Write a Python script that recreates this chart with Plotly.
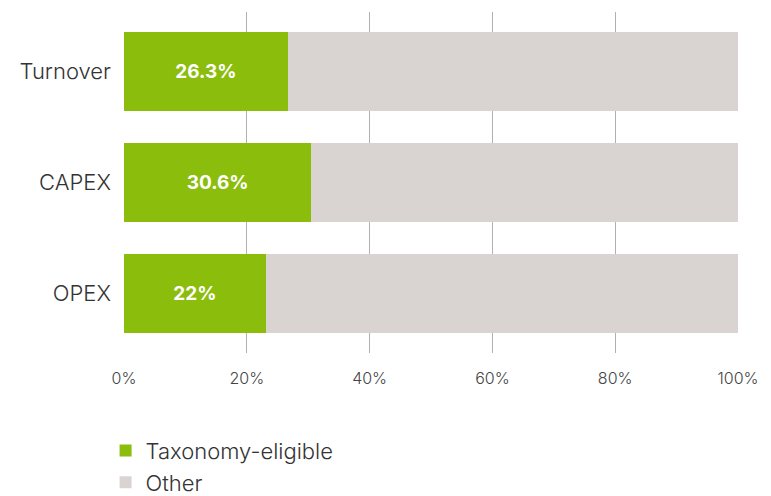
import plotly.graph_objects as go

categories = ["Turnover", "CAPEX", "OPEX"]
eligible = [26.7, 30.5, 23.1]
other = [73.3, 69.5, 76.9]
eligible_labels = ["26.3%", "30.6%", "22%"]
tick_vals = [0, 20, 40, 60, 80, 100]
tick_text = ["0%", "20%", "40%", "60%", "80%", "100%"]

GREEN = "#8bbd0d"
GRAY = "#d9d4d2"
FONT = "Inter, 'Open Sans', sans-serif"

fig = go.Figure()
fig.add_trace(go.Bar(
    y=categories, x=eligible, orientation="h", name="Taxonomy-eligible",
    marker=dict(color=GREEN, line=dict(width=0)),
    text=eligible_labels, textposition="inside", insidetextanchor="middle",
    textfont=dict(color="white", size=19, family=FONT, weight="bold"),
    hoverinfo="skip",
))
fig.add_trace(go.Bar(
    y=categories, x=other, orientation="h", name="Other",
    marker=dict(color=GRAY, line=dict(width=0)),
    hoverinfo="skip",
))

fig.update_layout(
    barmode="stack",
    bargap=0.29,
    width=771, height=496,
    margin=dict(l=124, r=33, t=12, b=143, autoexpand=False),
    paper_bgcolor="white", plot_bgcolor="white",
    font=dict(family=FONT, color="#333333"),
    showlegend=True,
    legend=dict(
        orientation="v", x=-0.03, xanchor="left", y=-0.225, yanchor="top",
        font=dict(size=22, color="#333333", family=FONT, weight=300),
        traceorder="normal", itemwidth=30, tracegroupgap=0,
    ),
    xaxis=dict(
        range=[0, 100], tickvals=tick_vals, ticktext=tick_text,
        showgrid=True, gridcolor="#b0b0b0", gridwidth=1,
        zeroline=False, showline=False,
        tickfont=dict(size=16, color="#444444", weight=300),
        ticks="", ticklabelstandoff=14,
    ),
    yaxis=dict(
        range=[2.536, -0.536],
        showgrid=False, zeroline=False, showline=False,
        tickfont=dict(size=22, color="#333333", weight=300),
        ticks="", ticklabelstandoff=12,
    ),
)

fig.write_html("out.html")
